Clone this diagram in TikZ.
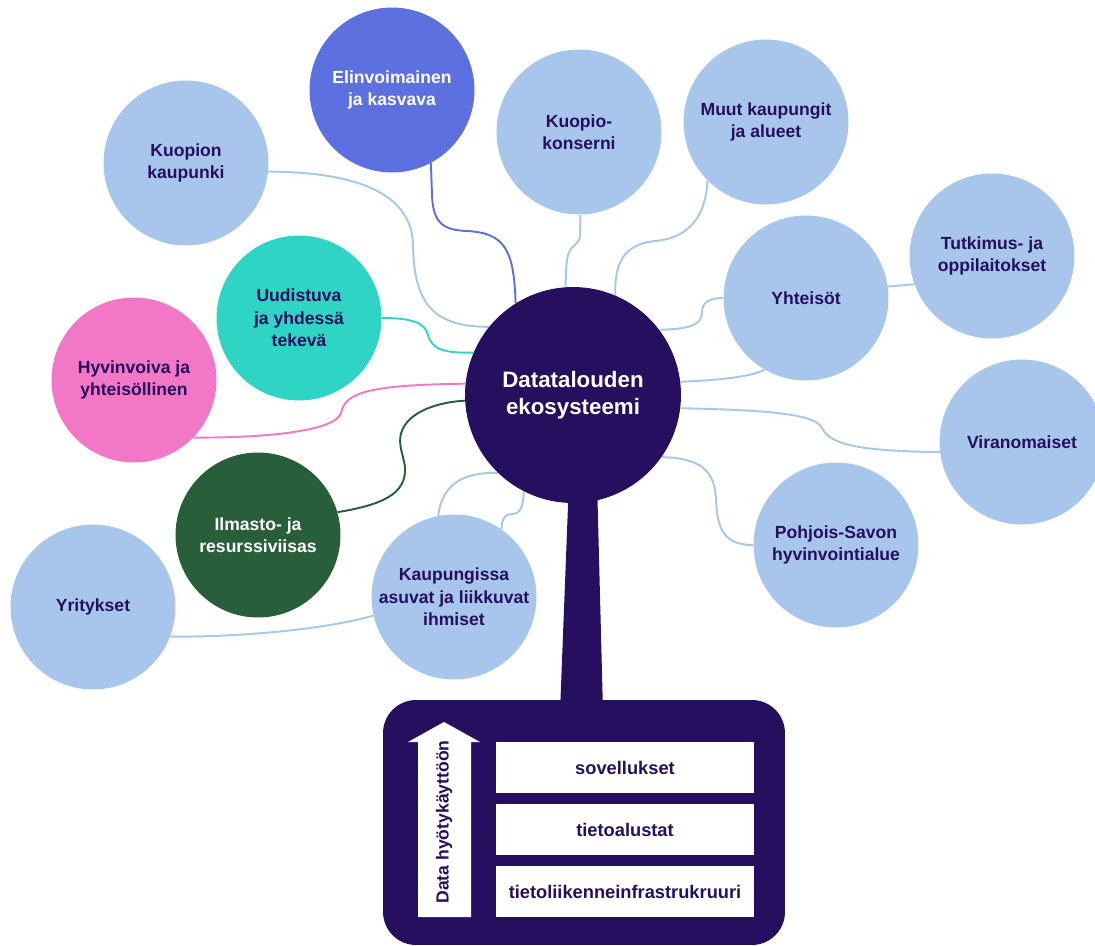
\documentclass[tikz,border=0pt]{standalone}
\usepackage{fontspec}
\setmainfont{Liberation Sans}
\usetikzlibrary{backgrounds}
\definecolor{dark}{RGB}{38,15,94}
\definecolor{lblue}{HTML}{A8C6EC}
\definecolor{royal}{HTML}{5C70DF}
\definecolor{teal2}{HTML}{2ED5C5}
\definecolor{pink2}{HTML}{F278C7}
\definecolor{green2}{HTML}{285E3A}
\begin{document}
\begin{tikzpicture}[x=0.02cm,y=-0.02cm,
  bub/.style={circle,inner sep=0pt,minimum size=3.3cm,align=center,
    font=\bfseries\fontsize{10}{12.75}\selectfont},
  bluebub/.style={bub,fill=lblue,text=dark},
  con/.style={line width=1.1pt},
  bar/.style={rectangle,fill=white,minimum width=5.16cm,minimum height=1.02cm,inner sep=0pt,
    text=dark,font=\bfseries\fontsize{10.4}{12}\selectfont}]
\useasboundingbox (0,0) rectangle (1095,946);
\clip (0,0) rectangle (1095,946);

% bubbles
\node[bluebub] (kk) at (186,163) {Kuopion\\kaupunki};
\node[bub,fill=royal,text=white] (el) at (392,90) {Elinvoimainen\\ja kasvava};
\node[bluebub] (ko) at (579,132) {Kuopio-\\konserni};
\node[bluebub] (mk) at (766,122) {Muut kaupungit\\ja alueet};
\node[bluebub] (yh) at (806,298) {Yhteisöt};
\node[bluebub] (tu) at (992,256) {Tutkimus- ja\\oppilaitokset};
\node[bluebub] (vi) at (1022,442) {Viranomaiset};
\node[bluebub] (ps) at (836,545) {Pohjois-Savon\\hyvinvointialue};
\node[bluebub] (ka) at (454,597) {Kaupungissa\\asuvat ja liikkuvat\\ihmiset};
\node[bluebub] (yr) at (93,607) {Yritykset};
\node[bub,fill=green2,text=white] (il) at (258,535) {Ilmasto- ja\\resurssiviisas};
\node[bub,fill=pink2,text=dark] (hy) at (134,380) {Hyvinvoiva ja\\yhteisöllinen};
\node[bub,fill=teal2,text=dark] (uu) at (299,318) {Uudistuva\\ja yhdessä\\tekevä};

% stem, box
\fill[dark] (569,480) -- (597,480) -- (603,712) -- (560,712) -- cycle;
\node[circle,fill=dark,text=white,minimum size=4.32cm,inner sep=0pt,align=center,
  font=\bfseries\fontsize{12.7}{15.3}\selectfont] (c) at (573,395) {Datatalouden\\ekosysteemi};
\node[rectangle,fill=dark,rounded corners=0.66cm,minimum width=8.04cm,minimum height=4.9cm,inner sep=0pt] (box) at (584,822.5) {};
\node[bar] (b1) at (625,767.5) {sovellukset};
\node[bar] (b2) at (625,829.5) {tietoalustat};
\node[bar] (b3) at (625,891.5) {tietoliikenneinfrastrukruuri};
\fill[white] (418,917) -- (418,742) -- (408,742) -- (444,722) -- (480,742) -- (471,742) -- (471,917) -- cycle;
\node[rotate=90,text=dark,font=\bfseries\fontsize{10}{12}\selectfont] (dh) at (444,822) {Data hyötykäyttöön};

% connectors
\begin{scope}[on background layer]
\draw[con,lblue] (kk.-6) .. controls (360,172) and (412,195) .. (413,245) .. controls (414,300) and (430,327) .. (c.141);
\draw[con,royal] (el.-62) -- (432,195) .. controls (433,225) and (445,230) .. (467,231) .. controls (505,233) and (514,250) .. (c.122);
\draw[con,lblue] (ko.-89) -- (580,235) .. controls (580,245) and (572,243) .. (568,255) .. controls (566,262) and (566,275) .. (c.94);
\draw[con,lblue] (mk.-135) .. controls (706,215) and (690,238) .. (655,241) .. controls (625,244) and (614,262) .. (c.67);
\draw[con,lblue] (yh.180) .. controls (710,298) and (702,302) .. (702,312) .. controls (702,325) and (690,329) .. (c.37);
\draw[con,lblue] (c.7) .. controls (720,380) and (750,377) .. (yh.-120);
\draw[con,lblue] (yh.8) -- (tu.200);
\draw[con,lblue] (c.-7) .. controls (760,410) and (815,413) .. (822,428) .. controls (830,445) and (860,451) .. (vi.187);
\draw[con,lblue] (c.-35) .. controls (700,458) and (715,470) .. (716,500) .. controls (717,530) and (725,545) .. (ps.180);
\draw[con,lblue] (ka.101) .. controls (442,485) and (462,472) .. (c.-134);
\draw[con,lblue] (ka.55) .. controls (502,518) and (505,514) .. (512,514) .. controls (520,514) and (523,508) .. (c.-117);
\draw[con,lblue] (yr.-21) .. controls (250,637) and (330,628) .. (ka.193);
\draw[con,teal2] (uu.0) .. controls (410,318) and (425,322) .. (428,335) .. controls (432,350) and (445,353) .. (c.157);
\draw[con,pink2] (hy.-44) .. controls (260,438) and (335,432) .. (341,413) .. controls (345,392) and (370,385) .. (c.174);
\draw[con,green2] (il.16) .. controls (380,505) and (407,495) .. (405,467) .. controls (403,452) and (395,440) .. (405,425) .. controls (415,410) and (440,402) .. (c.183);
\end{scope}
\end{tikzpicture}
\end{document}
